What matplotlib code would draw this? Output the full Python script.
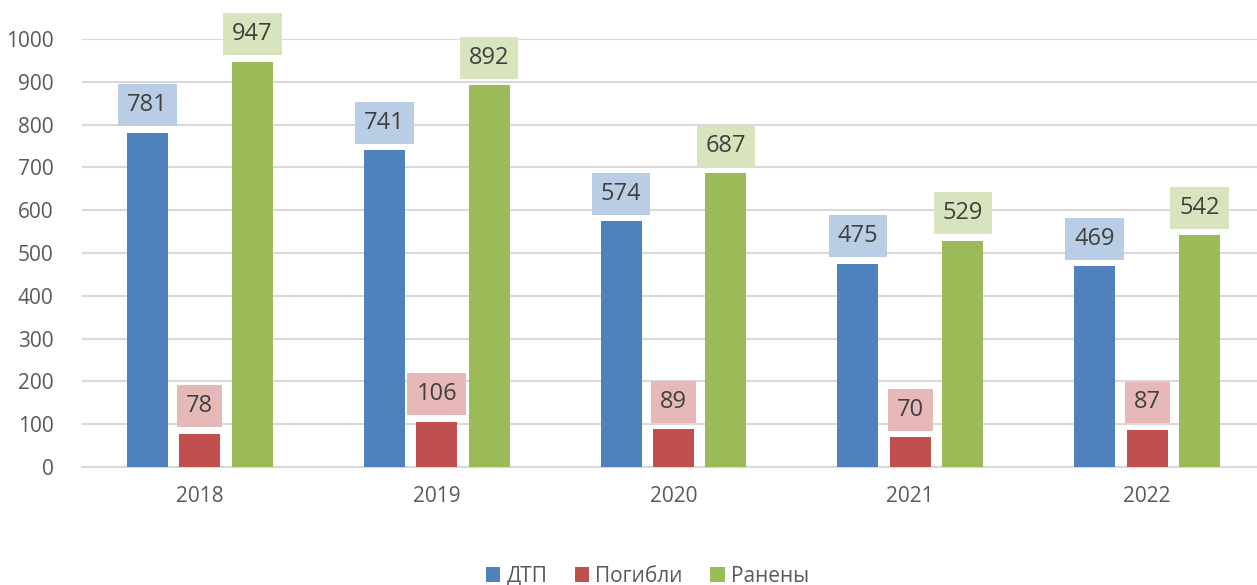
import matplotlib.pyplot as plt
import numpy as np

years = ["2018", "2019", "2020", "2021", "2022"]
series_names = ["ДТП", "Погибли", "Ранены"]
dtp = [781, 741, 574, 475, 469]
killed = [78, 106, 89, 70, 87]
injured = [947, 892, 687, 529, 542]

bar_colors = ["#4F81BD", "#C0504D", "#9BBB59"]
box_colors = ["#B9CDE5", "#E6B9B8", "#D7E4BD"]

plt.rcParams["font.family"] = ["Open Sans", "DejaVu Sans"]

fig = plt.figure(figsize=(12.57, 5.85), dpi=100)
ax = fig.add_axes([81.5 / 1257, 1 - 467 / 585, 1184 / 1257, 428 / 585])

x = np.arange(len(years))
width = 0.173
step = 0.2215
for i, (vals, name) in enumerate(zip([dtp, killed, injured], series_names)):
    pos = x + (i - 1) * step
    ax.bar(pos, vals, width=width, color=bar_colors[i], label=name, zorder=3)
    for p, v in zip(pos, vals):
        ax.annotate(str(v), (p, v), xytext=(0, 11), textcoords="offset points",
                    ha="center", va="bottom", fontsize=17, color="#404040",
                    annotation_clip=False,
                    bbox=dict(boxstyle="square,pad=0.38", fc=box_colors[i], ec="none"))

ax.set_ylim(0, 1000)
ax.set_xlim(-0.5, 4.5)
ax.set_yticks(range(0, 1001, 100))
ax.set_xticks(x)
ax.set_xticklabels(years)
ax.tick_params(axis="both", length=0, labelsize=15, colors="#595959")
ax.tick_params(axis="x", pad=14)
ax.tick_params(axis="y", pad=20)
ax.grid(axis="y", color="#D9D9D9", linewidth=1.5, zorder=0)
for s in ["top", "right", "left"]:
    ax.spines[s].set_visible(False)
ax.spines["bottom"].set_color("#D9D9D9")
ax.spines["bottom"].set_linewidth(1.5)

fig.legend(loc="lower center", bbox_to_anchor=(0.515, -0.035), ncol=3, frameon=False,
           fontsize=15, handlelength=0.7, handleheight=0.7, handletextpad=0.3,
           columnspacing=1.3, labelcolor="#595959")

fig.savefig("out.png", dpi=100)
